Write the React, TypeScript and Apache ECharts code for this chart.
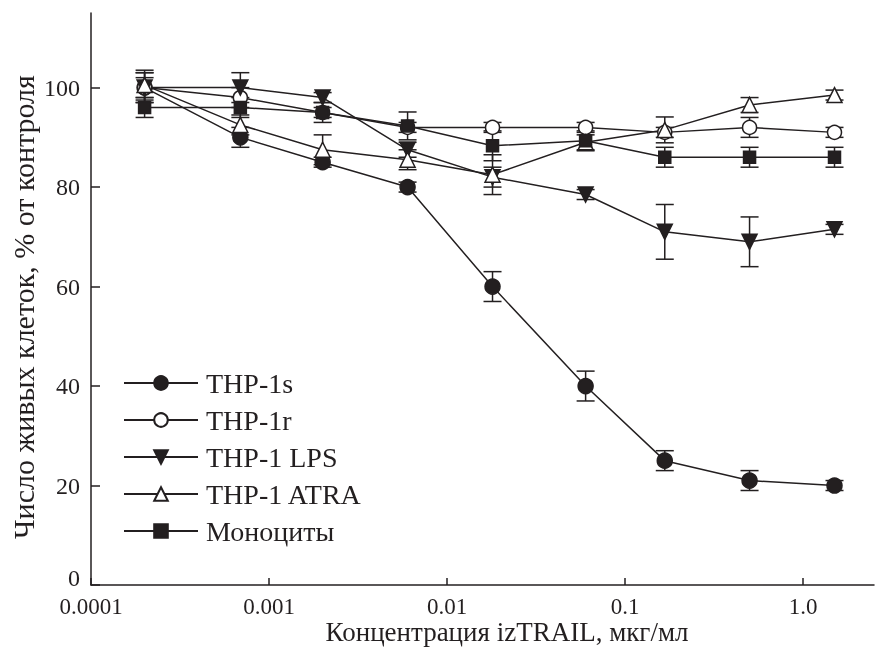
import React, { useEffect, useRef } from "react";
import * as echarts from "echarts";

const concentrations = [0.0002, 0.00069, 0.002, 0.006, 0.018, 0.06, 0.167, 0.5, 1.5];
const thp1s = [100, 90, 85, 80, 60, 40, 25, 21, 20];
const thp1sErr = [2, 2, 1, 1, 3, 3, 2, 2, 1];
const thp1r = [100, 98, 95, 92, 92, 92, 91, 92, 91];
const thp1rErr = [3, 2, 1, 1, 1, 1, 1, 2, 1];
const thp1lps = [100, 100, 98, 87.5, 82, 78.5, 71, 69, 71.5];
const thp1lpsErr = [3, 3, 1, 1.5, 2, 1, 5.5, 5, 1];
const thp1atra = [100.5, 92.5, 87.5, 85.5, 82.5, 89, 91.5, 96.5, 98.5];
const thp1atraErr = [3, 2, 3, 2, 4, 1.5, 2.6, 1.5, 1];
const monocytes = [96, 96, 95, 92.3, 88.3, 89.3, 86, 86, 86];
const monocytesErr = [2, 2, 2, 2.8, 3, 2, 2, 2, 2];

const seriesNames = ["THP-1s", "THP-1r", "THP-1 LPS", "THP-1 ATRA", "Моноциты"];
const xTickValues = [0.0001, 0.001, 0.01, 0.1, 1];
const xTickLabels = ["0.0001", "0.001", "0.01", "0.1", "1.0"];
const yTickValues = [0, 20, 40, 60, 80, 100];
const xTitle = "Концентрация izTRAIL, мкг/мл";
const yTitle = "Число живых клеток, % от контроля";

const DARK = "#231f20";
const FONT = "Liberation Serif";

export default function App() {
  const ref = useRef<HTMLDivElement>(null);
  useEffect(() => {
    if (!ref.current) return;
    const chart = echarts.init(ref.current, null, { renderer: "svg" });

    const values = [thp1s, thp1r, thp1lps, thp1atra, monocytes];
    const errs = [thp1sErr, thp1rErr, thp1lpsErr, thp1atraErr, monocytesErr];
    const symbols = [
      { symbol: "circle", size: 15, fill: DARK, rotate: 0 },
      { symbol: "circle", size: 14, fill: "#ffffff", rotate: 0 },
      { symbol: "triangle", size: 15, fill: DARK, rotate: 180 },
      { symbol: "triangle", size: 15, fill: "#ffffff", rotate: 0 },
      { symbol: "rect", size: 12, fill: DARK, rotate: 0 },
    ];

    const errorSeries = values.map((vals, si) => ({
      type: "custom",
      name: seriesNames[si] + " err",
      silent: true,
      z: 1,
      encode: { x: 0, y: [1, 2] },
      data: concentrations.map((c, i) => [c, vals[i] - errs[si][i], vals[i] + errs[si][i]]),
      renderItem: (params: any, api: any) => {
        const x = api.value(0);
        const pLo = api.coord([x, api.value(1)]);
        const pHi = api.coord([x, api.value(2)]);
        const hw = 9;
        const style = { stroke: DARK, lineWidth: 1.5, fill: "none" };
        return {
          type: "group",
          children: [
            { type: "line", shape: { x1: pHi[0], y1: pHi[1], x2: pLo[0], y2: pLo[1] }, style },
            { type: "line", shape: { x1: pHi[0] - hw, y1: pHi[1], x2: pHi[0] + hw, y2: pHi[1] }, style },
            { type: "line", shape: { x1: pLo[0] - hw, y1: pLo[1], x2: pLo[0] + hw, y2: pLo[1] }, style },
          ],
        };
      },
    }));

    const lineSeries = values.map((vals, si) => ({
      type: "line",
      name: seriesNames[si],
      z: 3,
      data: concentrations.map((c, i) => [c, vals[i]]),
      symbol: symbols[si].symbol,
      symbolSize: symbols[si].size,
      symbolRotate: symbols[si].rotate,
      showAllSymbol: true,
      lineStyle: { color: DARK, width: 1.5 },
      itemStyle: { color: symbols[si].fill, borderColor: DARK, borderWidth: 1.5, opacity: 1 },
      emphasis: { disabled: true },
    }));

    chart.setOption({
      animation: false,
      textStyle: { fontFamily: FONT, color: DARK },
      grid: { left: 91, right: 1, top: 13, bottom: 65, containLabel: false, outerBoundsMode: "none" },
      legend: {
        data: seriesNames,
        orient: "vertical",
        left: 123,
        top: 369,
        padding: 0,
        itemWidth: 74,
        itemHeight: 17,
        itemGap: 9,
        textStyle: { fontFamily: FONT, fontSize: 28, color: DARK, padding: [0, 0, 0, 3] },
      },
      xAxis: {
        type: "log",
        logBase: 10,
        min: 0.0001,
        max: 2.5,
        axisLine: { lineStyle: { color: DARK, width: 1.5 } },
        axisTick: { inside: true, length: 7, lineStyle: { color: DARK, width: 1.5 }, customValues: xTickValues },
        axisLabel: {
          customValues: xTickValues,
          margin: 11,
          fontSize: 23,
          lineHeight: 20,
          fontFamily: FONT,
          color: DARK,
          formatter: (v: number) => {
            const idx = xTickValues.findIndex((t) => Math.abs(Math.log10(t) - Math.log10(v)) < 1e-6);
            return idx >= 0 ? xTickLabels[idx] : "";
          },
        },
        splitLine: { show: false },
        minorTick: { show: false },
      },
      yAxis: {
        type: "value",
        min: 0,
        max: 115,
        axisLine: { show: true, lineStyle: { color: DARK, width: 1.5 } },
        axisTick: { show: true, inside: true, length: 9, lineStyle: { color: DARK, width: 1.5 }, customValues: yTickValues },
        axisLabel: {
          customValues: yTickValues,
          margin: 11,
          fontSize: 24,
          fontFamily: FONT,
          color: DARK,
          formatter: (v: number) => (v === 0 ? "{z|0}" : String(v)),
          rich: { z: { fontSize: 24, fontFamily: FONT, color: DARK, padding: [0, 0, 14, 0] } },
        },
        splitLine: { show: false },
      },
      graphic: [
        {
          type: "text",
          x: 507,
          y: 632,
          style: {
            text: xTitle,
            fontFamily: FONT,
            fontSize: 27,
            lineHeight: 26,
            fill: DARK,
            align: "center",
            verticalAlign: "middle",
          },
        },
        {
          type: "text",
          x: 23,
          y: 307,
          rotation: Math.PI / 2,
          style: { text: yTitle, fontFamily: FONT, fontSize: 30, fill: DARK, align: "center", verticalAlign: "middle" },
        },
      ],
      series: [...errorSeries, ...lineSeries],
    });
    return () => chart.dispose();
  }, []);
  return <div ref={ref} style={{ width: 875, height: 650, position: "fixed", left: 0, top: 0 }} />;
}
